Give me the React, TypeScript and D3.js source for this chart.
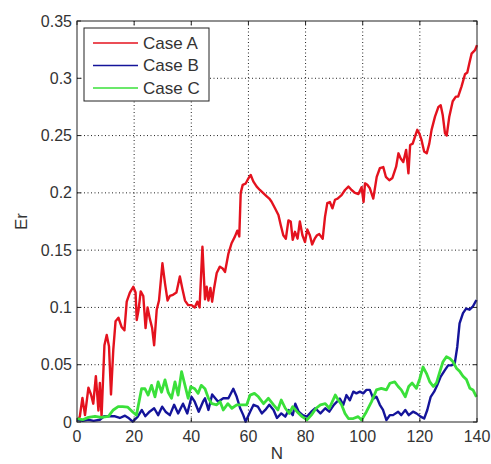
import * as d3 from 'd3';

// series as [N, Er] pairs
const caseA: [number, number][] = [
  [0.5, 0.002], [1, 0.005], [1.9, 0.021], [2.8, 0.006], [4, 0.03], [4.9, 0.024], [5.7, 0.016],
  [6.6, 0.04], [7.5, 0.01], [8, 0.034], [8.6, 0.005], [9.6, 0.067], [10.4, 0.076], [11.2, 0.066],
  [11.9, 0.024], [12.7, 0.063], [13.5, 0.088], [14.5, 0.091], [15.6, 0.083], [16.6, 0.08],
  [17.4, 0.105], [18.5, 0.113], [19.7, 0.118], [20.5, 0.113], [20.9, 0.089], [21.5, 0.097],
  [22.3, 0.114], [23.2, 0.11], [24, 0.082], [24.7, 0.1], [25.5, 0.09], [26.3, 0.082], [27, 0.067],
  [27.9, 0.098], [28.7, 0.106], [29.9, 0.1385], [30.8, 0.121], [31.7, 0.106], [32.5, 0.11],
  [33.6, 0.111], [34.8, 0.113], [36, 0.127], [36.9, 0.116], [37.8, 0.106], [38.9, 0.102],
  [40.1, 0.102], [41.2, 0.1], [42.1, 0.105], [42.9, 0.1], [43.9, 0.153], [44.8, 0.107],
  [45.4, 0.118], [46, 0.106], [46.7, 0.117], [47.3, 0.105], [48, 0.117], [48.9, 0.13],
  [50, 0.1356], [51, 0.134], [51.8, 0.131], [53, 0.147], [54.1, 0.156], [55.3, 0.162],
  [56.1, 0.167], [56.8, 0.162], [57.3, 0.2], [58, 0.207], [59, 0.208], [60, 0.2127],
  [60.8, 0.2156], [61.7, 0.21], [62.9, 0.2054], [64, 0.2025], [65.2, 0.1997], [66.4, 0.197],
  [67.3, 0.195], [68.1, 0.1923], [69.3, 0.1865], [70.5, 0.1807], [71.3, 0.172], [72.2, 0.163],
  [73.1, 0.16], [74, 0.176], [74.8, 0.175], [75.5, 0.159], [76.3, 0.166], [77.2, 0.16],
  [78, 0.175], [78.9, 0.163], [79.8, 0.157], [80.6, 0.168], [81.5, 0.163], [82.3, 0.155],
  [83.2, 0.16], [84, 0.163], [84.8, 0.164], [86, 0.16], [86.8, 0.179], [87.6, 0.191],
  [88.5, 0.192], [89.4, 0.1865], [90.3, 0.194], [91.2, 0.195], [92.6, 0.198], [93.8, 0.2025],
  [95, 0.2055], [96.1, 0.2025], [97.3, 0.2], [98.5, 0.199], [99.6, 0.205], [100.3, 0.192],
  [100.8, 0.2083], [101.6, 0.207], [102.5, 0.204], [103.7, 0.195], [104.9, 0.214], [106, 0.2215],
  [107.2, 0.2225], [108.1, 0.214], [109.3, 0.211], [110.4, 0.213], [111.7, 0.2228],
  [112.5, 0.2345], [113.3, 0.23], [114.2, 0.227], [115.2, 0.2375], [116, 0.217], [116.6, 0.2418],
  [117.5, 0.243], [118.3, 0.249], [119.1, 0.255], [119.8, 0.252], [120.6, 0.246], [121.5, 0.236],
  [122.4, 0.2345], [123.3, 0.243], [124.1, 0.255], [125.3, 0.2665], [126.5, 0.275],
  [127.3, 0.2765], [128, 0.268], [128.8, 0.252], [129.4, 0.25], [130.3, 0.2665], [131.5, 0.28],
  [132.6, 0.284], [133.4, 0.284], [134.6, 0.293], [135.8, 0.3035], [136.6, 0.305],
  [137.3, 0.313], [138.1, 0.3215], [139.3, 0.3245], [140, 0.329],
];

const caseB: [number, number][] = [
  [0, 0.002], [2, 0.001], [4, 0.002], [5.8, 0.001], [8, 0.002], [9.5, 0.005], [11, 0.005],
  [13.3, 0.005], [15, 0.0035], [16.8, 0.0055], [17.9, 0.0038], [19.5, 0.0003], [21.2, 0.0045],
  [22.7, 0.0105], [23.9, 0.005], [25.4, 0.009], [27, 0.012], [28.4, 0.006], [29.8, 0.0134],
  [31, 0.009], [32.5, 0.006], [34, 0.015], [35.4, 0.0075], [37.1, 0.016], [38.6, 0.0075],
  [40.1, 0.022], [41.2, 0.0177], [42.6, 0.009], [44.1, 0.0177], [44.8, 0.0207], [46, 0.0105],
  [47.3, 0.024], [49.4, 0.0177], [51.2, 0.0207], [53, 0.0207], [54.7, 0.029], [55.9, 0.022],
  [57.1, 0.012], [58.2, 0.006], [59, 0.0003], [60.6, 0.009], [61.8, 0.015], [63.3, 0.0134],
  [64.7, 0.0075], [65.9, 0.0105], [67.3, 0.015], [68.8, 0.0105], [70, 0.0035], [71.5, 0.0075],
  [72.9, 0.0047], [74.1, 0.0105], [75.5, 0.006], [76.4, 0.016], [77.6, 0.009], [79, 0.006],
  [80.5, 0.0047], [82, 0.009], [83.4, 0.012], [85.2, 0.0075], [86.9, 0.012], [88.3, 0.009],
  [89.9, 0.015], [91, 0.0177], [92, 0.0204], [93.2, 0.015], [94.3, 0.0235], [95.5, 0.019],
  [96.7, 0.0265], [97.8, 0.025], [99, 0.0265], [100.2, 0.025], [101.3, 0.028], [102.5, 0.028],
  [103.7, 0.0204], [104.8, 0.022], [106, 0.015], [107.1, 0.0105], [108.3, 0.0017],
  [109.5, 0.006], [110.6, 0.006], [112.4, 0.009], [113.5, 0.006], [114.9, 0.0105],
  [116.1, 0.006], [117.6, 0.009], [118.8, 0.0075], [120.3, 0.0047], [121.5, 0.003],
  [122.6, 0.0105], [123.8, 0.022], [125, 0.0265], [126.1, 0.0323], [127.3, 0.0396],
  [128.7, 0.045], [129.9, 0.0494], [131, 0.0494], [132.2, 0.051], [133.1, 0.0657],
  [133.9, 0.086], [135.1, 0.095], [136.2, 0.099], [137.4, 0.098], [138.6, 0.101], [139.8, 0.1065],
];

const caseC: [number, number][] = [
  [0, 0.003], [2, 0.002], [4, 0.004], [6.3, 0.005], [8.5, 0.004], [11, 0.005], [12.7, 0.0105],
  [14.4, 0.0134], [16, 0.0134], [17.7, 0.013], [19.4, 0.009], [20.8, 0.006], [22.6, 0.029],
  [23.8, 0.029], [24.9, 0.0235], [26.1, 0.032], [27.3, 0.022], [28.4, 0.035], [29.6, 0.026],
  [30.8, 0.0367], [31.9, 0.026], [33.1, 0.0207], [34.3, 0.035], [35.4, 0.0235], [36.6, 0.044],
  [37.8, 0.032], [38.9, 0.0207], [39.8, 0.0308], [41.2, 0.029], [42.4, 0.025], [43.5, 0.032],
  [44.8, 0.029], [46, 0.0207], [47.2, 0.016], [48.9, 0.015], [50.1, 0.0177], [51.2, 0.0105],
  [52.8, 0.016], [54.2, 0.012], [55.9, 0.015], [57.7, 0.015], [59.4, 0.015], [60.6, 0.0235],
  [62.1, 0.025], [63.5, 0.022], [65.3, 0.016], [67, 0.0207], [68.8, 0.015], [70.3, 0.0105],
  [71.5, 0.0192], [72.9, 0.012], [74.3, 0.0075], [75.5, 0.0134], [77, 0.009], [78.8, 0.0047],
  [80.5, 0.0018], [82, 0.006], [83.7, 0.012], [85.2, 0.015], [86.9, 0.016], [88.3, 0.012],
  [90.4, 0.0235], [91.5, 0.019], [92.6, 0.015], [93.8, 0.0075], [95, 0.003], [96.7, 0.003],
  [98.4, 0.0047], [99.6, 0.0017], [101.3, 0.009], [103.1, 0.0178], [104.8, 0.028],
  [106.5, 0.0294], [108.3, 0.028], [109.5, 0.0338], [111.2, 0.035], [112.4, 0.031],
  [113.5, 0.028], [114.9, 0.022], [116.1, 0.031], [117.3, 0.034], [118.8, 0.0294], [120, 0.038],
  [121.1, 0.048], [122.3, 0.0425], [123.5, 0.035], [124.7, 0.031], [125.8, 0.034], [127, 0.044],
  [128.1, 0.0526], [129.3, 0.057], [130.5, 0.0555], [131.6, 0.0526], [132.8, 0.047],
  [134, 0.044], [135.1, 0.04], [136.3, 0.037], [137.5, 0.0294], [138.6, 0.028], [139.8, 0.022],
];

const xTicks = [0, 20, 40, 60, 80, 100, 120, 140];
const yTicks = [0, 0.05, 0.1, 0.15, 0.2, 0.25, 0.3, 0.35];
const seriesNames = ['Case A', 'Case B', 'Case C'];
const seriesColors = ['#e4121e', '#14149a', '#3ae03a'];

const width = 491;
const height = 464;
const margin = {top: 21, right: 14, bottom: 42, left: 77};
const font = '"Liberation Sans", Arial, sans-serif';

export default function App() {
  const innerW = width - margin.left - margin.right;
  const innerH = height - margin.top - margin.bottom;

  const x = d3.scaleLinear().domain([0, 140]).range([0, innerW]);
  const y = d3.scaleLinear().domain([0, 0.35]).range([innerH, 0]);

  const line = d3.line<[number, number]>()
    .x(d => x(d[0]))
    .y(d => y(d[1]));

  const series = [caseA, caseB, caseC];
  const fmt = (v: number) => (v === 0 ? '0' : String(+v.toFixed(2)));

  return (
    <svg width={width} height={height} style={{position: 'absolute', left: 0, top: 0, background: '#fff'}}>
      <g transform={`translate(${margin.left},${margin.top})`}>
        {/* grid */}
        {xTicks.slice(1, -1).map(t => (
          <line key={'gx' + t} x1={x(t)} x2={x(t)} y1={0} y2={innerH}
            stroke="#222" strokeWidth={1} strokeDasharray="1,2.5" />
        ))}
        {yTicks.slice(1, -1).map(t => (
          <line key={'gy' + t} x1={0} x2={innerW} y1={y(t)} y2={y(t)}
            stroke="#222" strokeWidth={1} strokeDasharray="1,2.5" />
        ))}

        {/* data */}
        {series.map((s, i) => (
          <path key={seriesNames[i]} d={line(s) || ''} fill="none"
            stroke={seriesColors[i]} strokeWidth={i === 2 ? 2.8 : 2.4} strokeLinejoin="round" />
        ))}

        {/* box + ticks */}
        <rect x={0} y={0} width={innerW} height={innerH} fill="none" stroke="#222" strokeWidth={1} />
        {xTicks.map(t => (
          <g key={'tx' + t}>
            <line x1={x(t)} x2={x(t)} y1={innerH} y2={innerH - 4} stroke="#222" />
            <line x1={x(t)} x2={x(t)} y1={0} y2={4} stroke="#222" />
            <text x={x(t)} y={innerH + 20} textAnchor="middle" fontFamily={font} fontSize={16} fill="#333">
              {t}
            </text>
          </g>
        ))}
        {yTicks.map(t => (
          <g key={'ty' + t}>
            <line x1={0} x2={4} y1={y(t)} y2={y(t)} stroke="#222" />
            <line x1={innerW} x2={innerW - 4} y1={y(t)} y2={y(t)} stroke="#222" />
            <text x={-5} y={y(t)} dy="0.35em" textAnchor="end" fontFamily={font} fontSize={16} fill="#333">
              {fmt(t)}
            </text>
          </g>
        ))}

        {/* legend */}
        <g transform="translate(7,7)">
          <rect x={0} y={0} width={125} height={73} fill="#fff" stroke="#222" strokeWidth={1} />
          {seriesNames.map((n, i) => (
            <g key={'lg' + n} transform={`translate(0,${15 + i * 22.5})`}>
              <line x1={9} x2={54} y1={0} y2={0} stroke={seriesColors[i]} strokeWidth={1.5} />
              <text x={59} y={0} dy="0.35em" fontFamily={font} fontSize={17} fill="#333">{n}</text>
            </g>
          ))}
        </g>
      </g>

      {/* axis labels */}
      <text x={margin.left + innerW / 2} y={459} textAnchor="middle" fontFamily={font} fontSize={17} fill="#333">N</text>
      <text transform={`translate(27,${margin.top + innerH / 2}) rotate(-90)`} textAnchor="middle"
        fontFamily={font} fontSize={17} fill="#333">Er</text>
    </svg>
  );
}
